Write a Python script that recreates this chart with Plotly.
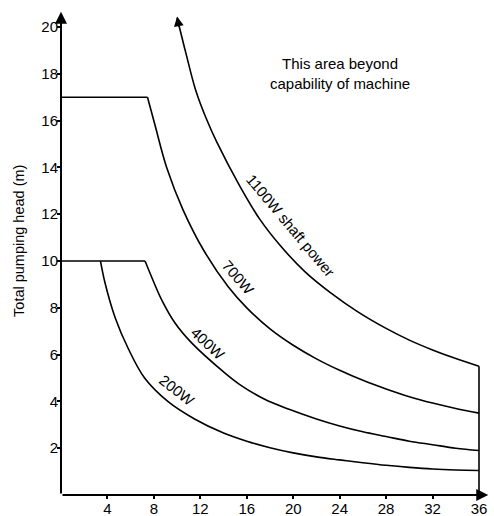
import plotly.graph_objects as go

# ---- data (flow in x units, head in m) ----
q_1100 = [10.0, 10.8, 11.6, 12.5, 13.4, 15.4, 17.1, 18.9, 21.0, 23.2, 25.5, 28.0, 30.0, 32.0, 34.0, 36.0]
h_1100 = [20.4, 18.8, 17.3, 16.1, 15.1, 13.2, 11.8, 10.65, 9.55, 8.65, 7.85, 7.12, 6.62, 6.2, 5.83, 5.5]

q_700 = [0, 7.45, 8.1, 9.1, 10.5, 12.3, 14.4, 16.0, 18.0, 20.0, 22.0, 24.0, 26.0, 28.0, 30.0, 32.0, 34.0, 36.0]
h_700 = [17.0, 17.0, 15.8, 14.0, 12.2, 10.45, 8.9, 8.0, 7.1, 6.4, 5.82, 5.33, 4.9, 4.53, 4.2, 3.93, 3.7, 3.5]

q_400 = [0, 7.24, 7.67, 8.67, 9.82, 11.25, 14.1, 15.4, 17.5, 19.7, 22.0, 24.0, 26.0, 28.0, 30.0, 32.0, 34.0, 36.0]
h_400 = [10.0, 10.0, 9.48, 8.34, 7.35, 6.5, 5.22, 4.72, 4.1, 3.65, 3.25, 2.95, 2.7, 2.5, 2.3, 2.15, 2.0, 1.9]

q_200 = [3.4, 3.8, 4.65, 5.8, 7.2, 9.2, 11.5, 14.0, 16.0, 18.0, 20.0, 22.0, 24.0, 26.0, 28.0, 30.0, 32.0, 34.0, 36.0]
h_200 = [10.0, 9.05, 7.6, 6.25, 5.0, 4.0, 3.25, 2.65, 2.3, 2.02, 1.8, 1.63, 1.5, 1.38, 1.27, 1.18, 1.11, 1.07, 1.05]

q_limit = [36.0, 36.0]
h_limit = [5.5, 0.0]

x_ticks = [4, 8, 12, 16, 20, 24, 28, 32, 36]
y_ticks = [2, 4, 6, 8, 10, 12, 14, 16, 18, 20]

curve_labels = ["1100W shaft power", "700W", "400W", "200W"]
label_q = [19.8, 15.25, 12.66, 10.03]
label_h = [11.54, 9.28, 6.47, 4.46]
label_angle = [50, 49, 43, 38]

FONT = "Liberation Sans, Arial, sans-serif"
BLACK = "#000000"

fig = go.Figure()

def add_line(x, y, shape="linear", width=1.6):
    fig.add_trace(go.Scatter(x=x, y=y, mode="lines",
                             line=dict(color=BLACK, width=width, shape=shape, smoothing=1.0),
                             hoverinfo="skip", showlegend=False, cliponaxis=False))

# 1100W
add_line(q_1100, h_1100, "spline")
# 700W: flat part then curve
add_line(q_700[:2], h_700[:2])
add_line(q_700[1:], h_700[1:], "spline")
# 400W: flat part then curve
add_line(q_400[:2], h_400[:2])
add_line(q_400[1:], h_400[1:], "spline")
# 200W branches off the 10 m line
add_line(q_200, h_200, "spline")
# right-hand limit
add_line(q_limit, h_limit)

annotations = []
# axes drawn as arrows
annotations.append(dict(x=36.8, y=0, ax=0, ay=0, xref="x", yref="y", axref="x", ayref="y",
                        text="", showarrow=True, arrowhead=2, arrowsize=1.2, arrowwidth=2, arrowcolor=BLACK))
annotations.append(dict(x=0, y=20.65, ax=0, ay=0, xref="x", yref="y", axref="x", ayref="y",
                        text="", showarrow=True, arrowhead=2, arrowsize=1.2, arrowwidth=2, arrowcolor=BLACK))
# arrow at top of 1100W curve
annotations.append(dict(x=10.0, y=20.45, ax=10.18, ay=19.95, xref="x", yref="y", axref="x", ayref="y",
                        text="", showarrow=True, arrowhead=2, arrowsize=1.3, arrowwidth=1.5, arrowcolor=BLACK))

for t, qx, hy, a in zip(curve_labels, label_q, label_h, label_angle):
    annotations.append(dict(x=qx, y=hy, xref="x", yref="y", text=t, textangle=a, showarrow=False,
                            font=dict(family=FONT, size=15, color=BLACK)))

annotations.append(dict(x=24.03, y=18.03, xref="x", yref="y",
                        text="This area beyond<br>capability of machine", showarrow=False,
                        font=dict(family=FONT, size=15, color=BLACK), align="center"))

annotations.append(dict(x=-0.0974, y=0.5196, xref="paper", yref="paper", xanchor="center", yanchor="middle",
                        text="Total pumping head (m)", textangle=-90, showarrow=False,
                        font=dict(family=FONT, size=14.5, color=BLACK)))

fig.update_layout(
    width=494, height=516,
    margin=dict(l=61, r=2, t=6, b=21),
    paper_bgcolor="white", plot_bgcolor="white",
    annotations=annotations,
    font=dict(family=FONT, size=15, color=BLACK),
)
fig.update_xaxes(range=[0, 37.12], tickvals=x_ticks, ticktext=[str(v) for v in x_ticks],
                 showgrid=False, zeroline=False, showline=False,
                 ticks="outside", ticklen=3, tickwidth=1.5, tickcolor=BLACK,
                 ticklabelstandoff=-3,
                 tickfont=dict(family=FONT, size=15, color=BLACK), automargin=False)
fig.update_yaxes(range=[0, 20.9], tickvals=y_ticks, ticktext=[str(v) for v in y_ticks],
                 showgrid=False, zeroline=False, showline=False,
                 ticks="outside", ticklen=3, tickwidth=1.5, tickcolor=BLACK,
                 ticklabelstandoff=-4,
                 tickfont=dict(family=FONT, size=15, color=BLACK), automargin=False)

fig.write_html("out.html", config={"displayModeBar": False},
               post_script="document.body.style.margin='0';document.body.style.padding='0';")
